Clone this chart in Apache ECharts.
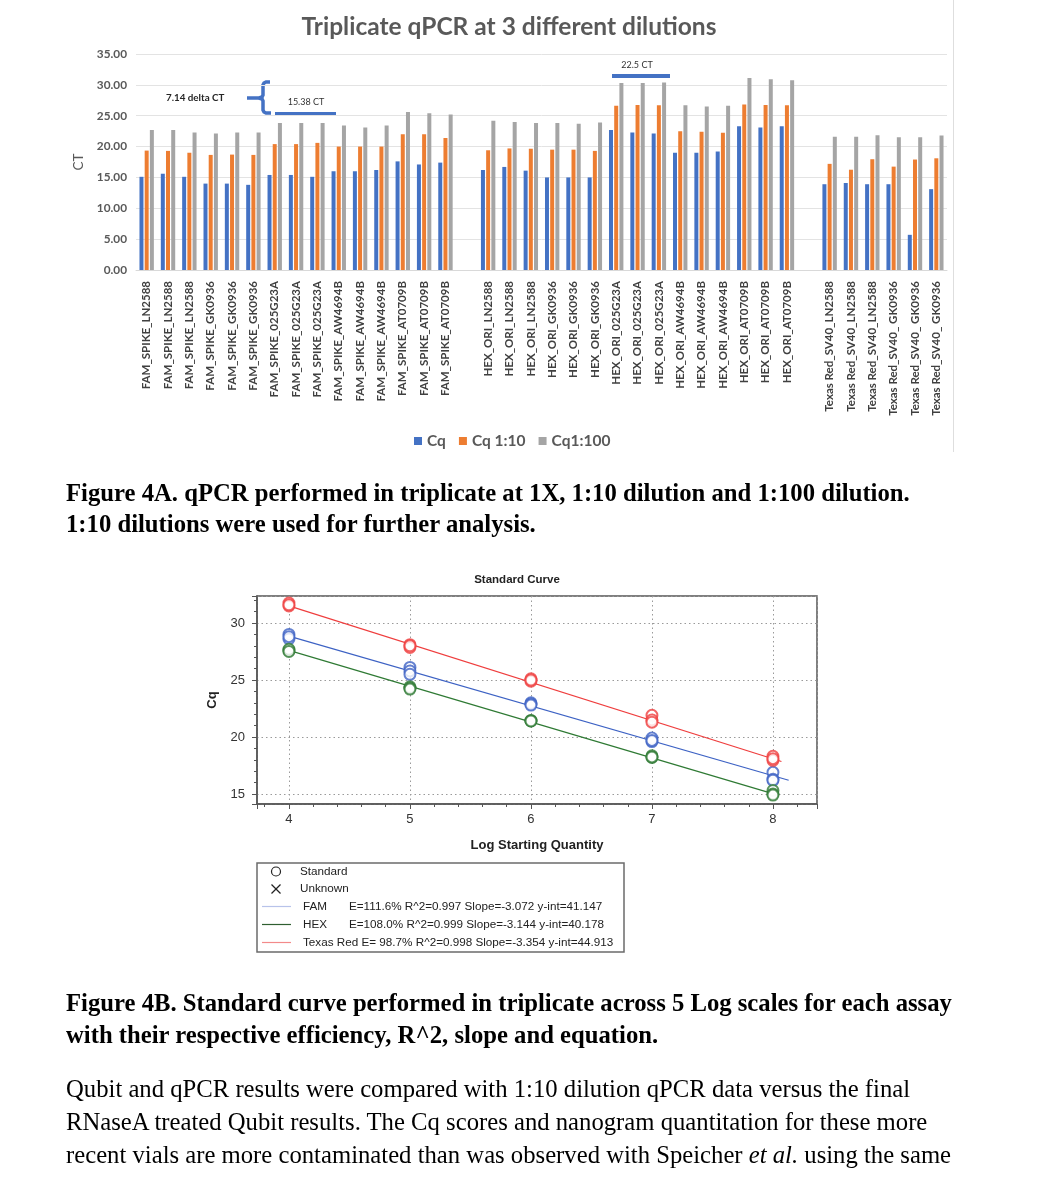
<!DOCTYPE html>
<html>
<head>
<meta charset="utf-8">
<script src="https://cdn.jsdelivr.net/npm/echarts@6/dist/echarts.min.js"></script>
<style>
  html, body { margin:0; padding:0; background:#fff; }
  #wrap { position:relative; width:1041px; height:1200px; overflow:hidden; }
  #chart { position:absolute; left:0; top:0; width:1041px; height:1200px; }
  .cap { position:absolute; left:66px; white-space:nowrap; color:#000; font-family:"Liberation Serif","Times New Roman",serif; font-size:24.7px; }
  .b { font-weight:bold; }
</style>
</head>
<body>
<div id="wrap">
  <div id="chart"></div>
  <div class="cap b" style="top:477px; line-height:31px;">Figure 4A. qPCR performed in triplicate at 1X, 1:10 dilution and 1:100 dilution.<br>1:10 dilutions were used for further analysis.</div>
  <div class="cap b" style="top:987px; line-height:32px;">Figure 4B. Standard curve performed in triplicate across 5 Log scales for each assay<br>with their respective efficiency, R^2, slope and equation.</div>
  <div class="cap" style="top:1072px; line-height:33px;">Qubit and qPCR results were compared with 1:10 dilution qPCR data versus the final<br>RNaseA treated Qubit results. The Cq scores and nanogram quantitation for these more<br>recent vials are more contaminated than was observed with Speicher <i>et al.</i> using the same</div>
</div>
<script>
// ---------- Figure 4A data ----------
const categories = [
  'FAM_SPIKE_LN2588','FAM_SPIKE_LN2588','FAM_SPIKE_LN2588',
  'FAM_SPIKE_GK0936','FAM_SPIKE_GK0936','FAM_SPIKE_GK0936',
  'FAM_SPIKE_025G23A','FAM_SPIKE_025G23A','FAM_SPIKE_025G23A',
  'FAM_SPIKE_AW4694B','FAM_SPIKE_AW4694B','FAM_SPIKE_AW4694B',
  'FAM_SPIKE_AT0709B','FAM_SPIKE_AT0709B','FAM_SPIKE_AT0709B',
  '',
  'HEX_ORI_LN2588','HEX_ORI_LN2588','HEX_ORI_LN2588',
  'HEX_ORI_GK0936','HEX_ORI_GK0936','HEX_ORI_GK0936',
  'HEX_ORI_025G23A','HEX_ORI_025G23A','HEX_ORI_025G23A',
  'HEX_ORI_AW4694B','HEX_ORI_AW4694B','HEX_ORI_AW4694B',
  'HEX_ORI_AT0709B','HEX_ORI_AT0709B','HEX_ORI_AT0709B',
  '',
  'Texas Red_SV40_LN2588','Texas Red_SV40_LN2588','Texas Red_SV40_LN2588',
  'Texas Red_SV40_ GK0936','Texas Red_SV40_ GK0936','Texas Red_SV40_ GK0936'
];
const cq = [15.1,15.6,15.1,14.0,14.0,13.8,15.4,15.4,15.1,16.0,16.0,16.2,17.6,17.1,17.4,'-',
            16.2,16.7,16.1,15.0,15.0,15.0,22.7,22.3,22.1,19.0,19.0,19.2,23.3,23.1,23.3,'-',
            13.9,14.1,13.9,13.9,5.7,13.1];
const cq10 = [19.35,19.3,19.0,18.65,18.7,18.65,20.4,20.4,20.6,20.0,20.0,20.0,22.0,22.0,21.4,'-',
              19.4,19.7,19.65,19.5,19.5,19.3,26.6,26.75,26.7,22.5,22.4,22.25,26.8,26.75,26.7,'-',
              17.2,16.25,17.95,16.75,17.9,18.1];
const cq100 = [22.7,22.7,22.3,22.1,22.3,22.3,23.8,23.8,23.8,23.4,23.1,23.4,25.6,25.4,25.2,'-',
               24.2,24.0,23.8,23.8,23.7,23.9,30.3,30.3,30.4,26.7,26.5,26.6,31.1,30.9,30.75,'-',
               21.6,21.6,21.85,21.5,21.5,21.8];

// ---------- Figure 4B data ----------
const logQty = [4,4,4,5,5,5,6,6,6,7,7,7,8,8,8];
const famCq = [29.0,28.6,28.8,26.1,25.8,25.5,23.0,22.9,22.8,19.9,19.6,19.7,16.9,16.3,16.2];
const hexCq = [27.6,27.7,27.5,24.4,24.3,24.2,21.4,21.45,21.4,18.35,18.2,18.25,15.3,15.0,14.9];
const trCq  = [31.75,31.5,31.6,28.1,27.85,28.0,25.1,24.9,25.0,21.9,21.5,21.3,18.3,17.95,18.1];
const famFitX = [4, 8.13], famFitY = [28.85, 16.2];
const hexFitX = [4, 8.04], hexFitY = [27.6, 14.9];
const trFitX  = [4, 8.07], trFitY  = [31.5, 17.85];
const fitNames = ['FAM','HEX','Texas Red'];
const fitE = ['111.6%','108.0%',' 98.7%'];
const fitR2 = ['0.997','0.999','0.998'];
const fitSlope = ['-3.072','-3.144','-3.354'];
const fitYint = ['41.147','40.178','44.913'];

const pair = (xs, ys) => xs.map((x, i) => [x, ys[i]]);

const C_BLUE = '#4472C4', C_ORANGE = '#ED7D31', C_GRAY = '#A5A5A5';
const F_FAM = '#3d62c4', F_HEX = '#2f7a34', F_TR = '#ef3e3e';
const calibri = 'Lato, "Open Sans", sans-serif';
const arial = '"Liberation Sans", Arial, sans-serif';

const chart = echarts.init(document.getElementById('chart'), null, {renderer:'canvas'});

const barCommon = { type:'bar', xAxisIndex:0, yAxisIndex:0, barWidth:4, barGap:'30%', barCategoryGap:'30%' };

const legendLines = fitNames.map((n, i) => ({
  name:n, stats:'E=' + fitE[i] + ' R^2=' + fitR2[i] + ' Slope=' + fitSlope[i] + ' y-int=' + fitYint[i]
}));
const legendColors = ['#b8c3ea', '#2f5f30', '#f38a8a'];
const lf = '11.7px ' + arial;

const graphics = [
  { type:'line', shape:{x1:953.5,y1:0,x2:953.5,y2:452}, style:{stroke:'#dedede', lineWidth:1} },
  { type:'text', style:{ text:'7.14 delta CT', x:166, y:98, verticalAlign:'middle', font:'bold 9.8px ' + calibri, fill:'#262626' } },
  { type:'polyline', shape:{ points:[[270,82],[266,82],[264,83],[263,85],[263,95],[262,97],[259,98],[247,98]] },
    style:{ stroke:C_BLUE, lineWidth:3.5, fill:null } },
  { type:'polyline', shape:{ points:[[259,98],[262,99],[263,101],[263,110],[264,112],[266,113],[271,113]] },
    style:{ stroke:C_BLUE, lineWidth:3.5, fill:null } },
  { type:'text', style:{ text:'15.38 CT', x:306, y:102.5, align:'center', verticalAlign:'middle', font:'9px ' + calibri, fill:'#333' } },
  { type:'line', shape:{x1:275,y1:114,x2:336,y2:114}, style:{stroke:C_BLUE, lineWidth:4} },
  { type:'text', style:{ text:'22.5 CT', x:637, y:65, align:'center', verticalAlign:'middle', font:'9px ' + calibri, fill:'#333' } },
  { type:'line', shape:{x1:612,y1:76,x2:670,y2:76}, style:{stroke:C_BLUE, lineWidth:4} },
  { type:'rect', shape:{x:257, y:863, width:367, height:89}, style:{ stroke:'#6b6b6b', lineWidth:1.5, fill:'#fff' } },
  { type:'circle', shape:{cx:276, cy:871.5, r:4.5}, style:{ stroke:'#222', lineWidth:1.2, fill:null } },
  { type:'line', shape:{x1:271.5,y1:884.5,x2:280.5,y2:893.5}, style:{ stroke:'#222', lineWidth:1.2 } },
  { type:'line', shape:{x1:280.5,y1:884.5,x2:271.5,y2:893.5}, style:{ stroke:'#222', lineWidth:1.2 } },
  { type:'text', style:{ text:'Standard', x:300, y:871.5, verticalAlign:'middle', font:lf, fill:'#222' } },
  { type:'text', style:{ text:'Unknown', x:300, y:889, verticalAlign:'middle', font:lf, fill:'#222' } }
];
legendLines.forEach((l, i) => {
  const y = 906.5 + i * 18;
  graphics.push({ type:'line', shape:{x1:262, y1:y, x2:291, y2:y}, style:{ stroke:legendColors[i], lineWidth:1.2 } });
  if (i < 2) {
    graphics.push({ type:'text', style:{ text:l.name, x:303, y:y, verticalAlign:'middle', font:lf, fill:'#222' } });
    graphics.push({ type:'text', style:{ text:l.stats, x:349, y:y, verticalAlign:'middle', font:lf, fill:'#222' } });
  } else {
    graphics.push({ type:'text', style:{ text:l.name + ' ' + l.stats, x:303, y:y, verticalAlign:'middle', font:lf, fill:'#222' } });
  }
});

const option = {
  backgroundColor:'#fff',
  animation:false,
  title:[
    { text:'Triplicate qPCR at 3 different dilutions', left:504, top:10, textAlign:'center',
      textStyle:{ fontFamily:calibri, fontWeight:'bold', fontSize:24.5, color:'#595959' } },
    { text:'Standard Curve', left:512, top:569, textAlign:'center',
      textStyle:{ fontFamily:arial, fontWeight:'bold', fontSize:11.5, color:'#222' } }
  ],
  legend:{
    data:['Cq','Cq 1:10','Cq1:100'], left:409, top:428, icon:'rect', itemWidth:8, itemHeight:8, itemGap:13,
    textStyle:{ fontFamily:calibri, fontWeight:'bold', fontSize:15.5, color:'#595959' }
  },
  grid:[
    { left:136, top:54, width:811, height:216 },
    { left:257, top:596, width:560, height:208, show:true, borderColor:'#555', borderWidth:1.5, backgroundColor:'transparent' }
  ],
  xAxis:[
    { type:'category', gridIndex:0, data:categories,
      axisLine:{ lineStyle:{ color:'#d9d9d9' } }, axisTick:{ show:false },
      axisLabel:{ interval:0, rotate:90, fontFamily:calibri, fontWeight:'bold', fontSize:11.5, color:'#404040', margin:11 } },
    { type:'value', gridIndex:1, min:3.736, max:8.364, minInterval:1, maxInterval:1,
      axisLine:{ onZero:false, lineStyle:{ color:'#555', width:1.5 } },
      axisTick:{ show:true, length:5, lineStyle:{ color:'#555' } },
      minorTick:{ show:true, splitNumber:5, length:3, lineStyle:{ color:'#555' } },
      splitLine:{ show:true, lineStyle:{ color:'#9a9a9a', type:[1.5,3] } },
      axisLabel:{ showMinLabel:false, showMaxLabel:false, fontFamily:arial, fontSize:13, color:'#333', margin:9 },
      name:'Log Starting Quantity', nameLocation:'middle', nameGap:35,
      nameTextStyle:{ fontFamily:arial, fontWeight:'bold', fontSize:13, color:'#222' } }
  ],
  yAxis:[
    { type:'value', gridIndex:0, min:0, max:35, interval:5,
      axisLine:{ show:false }, axisTick:{ show:false },
      splitLine:{ lineStyle:{ color:'#e3e3e3' } },
      axisLabel:{ formatter:v => v.toFixed(2), fontFamily:calibri, fontWeight:'bold', fontSize:11.8, color:'#595959', margin:9 },
      name:'CT', nameLocation:'middle', nameGap:44, nameRotate:90,
      nameTextStyle:{ fontFamily:calibri, fontSize:13.5, color:'#595959' } },
    { type:'value', gridIndex:1, min:14.12, max:32.37, minInterval:5, maxInterval:5,
      axisLine:{ onZero:false, lineStyle:{ color:'#555', width:1.5 } },
      axisTick:{ show:true, length:5, lineStyle:{ color:'#555' } },
      minorTick:{ show:true, splitNumber:5, length:3, lineStyle:{ color:'#555' } },
      splitLine:{ show:true, lineStyle:{ color:'#9a9a9a', type:[1.5,3] } },
      axisLabel:{ showMinLabel:false, showMaxLabel:false, fontFamily:arial, fontSize:13, color:'#333', margin:12 },
      name:'Cq', nameLocation:'middle', nameGap:38, nameRotate:90,
      nameTextStyle:{ fontFamily:arial, fontWeight:'bold', fontSize:13, color:'#222' } }
  ],
  series:[
    Object.assign({ name:'Cq', data:cq, itemStyle:{ color:C_BLUE } }, barCommon),
    Object.assign({ name:'Cq 1:10', data:cq10, itemStyle:{ color:C_ORANGE } }, barCommon),
    Object.assign({ name:'Cq1:100', data:cq100, itemStyle:{ color:C_GRAY } }, barCommon),
    { name:'FAM fit', type:'line', xAxisIndex:1, yAxisIndex:1, data:pair(famFitX, famFitY), showSymbol:false,
      lineStyle:{ color:F_FAM, width:1.2 }, z:3 },
    { name:'HEX fit', type:'line', xAxisIndex:1, yAxisIndex:1, data:pair(hexFitX, hexFitY), showSymbol:false,
      lineStyle:{ color:F_HEX, width:1.2 }, z:3 },
    { name:'TR fit', type:'line', xAxisIndex:1, yAxisIndex:1, data:pair(trFitX, trFitY), showSymbol:false,
      lineStyle:{ color:F_TR, width:1.2 }, z:3 },
    { name:'FAM std', type:'scatter', xAxisIndex:1, yAxisIndex:1, data:pair(logQty, famCq), symbol:'emptyCircle', symbolSize:11,
      itemStyle:{ color:F_FAM, borderColor:F_FAM, borderWidth:1.2 }, z:4 },
    { name:'HEX std', type:'scatter', xAxisIndex:1, yAxisIndex:1, data:pair(logQty, hexCq), symbol:'emptyCircle', symbolSize:11,
      itemStyle:{ color:F_HEX, borderColor:F_HEX, borderWidth:1.2 }, z:4 },
    { name:'TR std', type:'scatter', xAxisIndex:1, yAxisIndex:1, data:pair(logQty, trCq), symbol:'emptyCircle', symbolSize:11,
      itemStyle:{ color:F_TR, borderColor:F_TR, borderWidth:1.2 }, z:4 }
  ],
  graphic:graphics
};
chart.setOption(option);
</script>
</body>
</html>
